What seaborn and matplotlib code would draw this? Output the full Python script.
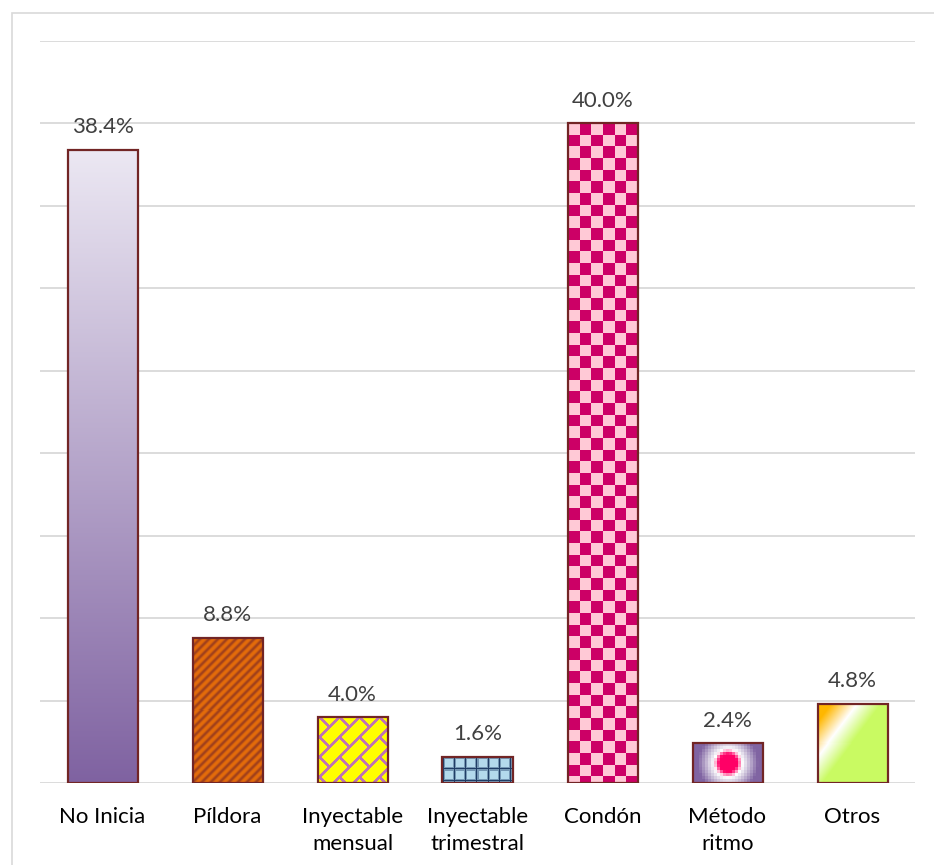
import numpy as np
import pandas as pd
import matplotlib
matplotlib.use("Agg")
import matplotlib.pyplot as plt
import matplotlib.colors as mcolors
from matplotlib.patches import Rectangle
import seaborn as sns

# Métodos anticonceptivos: porcentaje de uso
categorias = ["No Inicia", "Píldora", "Inyectable\nmensual", "Inyectable\ntrimestral",
              "Condón", "Método\nritmo", "Otros"]
porcentajes = [38.4, 8.8, 4.0, 1.6, 40.0, 2.4, 4.8]
etiquetas = ["38.4%", "8.8%", "4.0%", "1.6%", "40.0%", "2.4%", "4.8%"]
marcas_y = [0, 5, 10, 15, 20, 25, 30, 35, 40, 45]

BORDE = "#722525"
GRIS = "#d9d9d9"

sns.set_theme(style="white")
plt.rcParams["font.family"] = ["Lato", "DejaVu Sans"]


def rgb(c):
    return np.array(mcolors.to_rgb(c))


def mezcla(c1, c2, t):
    t = np.clip(t, 0, 1)[..., None]
    return (1 - t) * rgb(c1) + t * rgb(c2)


def malla(h, w):
    yy, xx = np.mgrid[0:h, 0:w]
    return xx + 0.5, yy + 0.5


# ---- rellenos de cada barra (arrays de píxeles) ----
def degradado_vertical(h, w):
    _, yy = malla(h, w)
    return mezcla("#ece8f3", "#7f62a1", yy / h)


def rayas(h, w):
    xx, yy = malla(h, w)
    s = ((xx + yy) % 9.0) / 9.0
    m = 0.5 + 0.5 * np.cos(2 * np.pi * s)
    return mezcla("#e46c0a", "#a0401c", m ** 1.5)


def ladrillos(h, w):
    xx, yy = malla(h, w)
    a = xx + yy
    b = xx - yy
    P, Q, t = 20.0, 40.0, 3.6
    k = np.floor(a / P)
    m1 = (a % P) < t
    m2 = ((b + (k % 2) * Q / 2) % Q) < t
    return mezcla("#ffff00", "#bf74b3", (m1 | m2).astype(float))


def cuadricula(h, w):
    xx, yy = malla(h, w)
    cel = 11.0
    dx = np.abs(((xx - 1.5) % cel) - cel / 2)
    dy = np.abs(((yy - 1.5) % cel) - cel / 2)
    lx = np.clip((dx - 4.0) / 1.2, 0, 1)
    ly = np.clip((dy - 4.0) / 1.2, 0, 1)
    return mezcla("#b3d9ec", "#1f3d66", np.maximum(lx, ly))


def tablero(h, w):
    xx, yy = malla(h, w)
    cel = w / 6.0
    c = (np.floor(xx / cel) + np.floor(yy / cel)) % 2
    return mezcla("#ffc9d6", "#cc0066", c)


def radial(h, w):
    xx, yy = malla(h, w)
    xx = np.floor(xx / 3) * 3 + 1.5
    yy = np.floor(yy / 3) * 3 + 1.5
    r = np.hypot(xx - w / 2, yy - h / 2)
    centro = mezcla("#ff0066", "#ffffff", (r - 9) / 5)
    fuera = mezcla("#ffffff", "#8064a2", (r - 14) / 16)
    return np.where((r < 14)[..., None], centro, fuera)


def diagonal(h, w):
    xx, yy = malla(h, w)
    t = xx / 40.0 + yy / 53.0
    a = mezcla("#ffb700", "#ffffff", (t - 0.35) / 0.65)
    b = mezcla("#ffffff", "#c9fa62", (t - 1.0) / 0.6)
    return np.where((t < 1.0)[..., None], a, b)


rellenos = [degradado_vertical, rayas, ladrillos, cuadricula, tablero, radial, diagonal]

fig = plt.figure(figsize=(9.34, 8.65), dpi=100)
ax = fig.add_axes([40 / 934, 1 - 783 / 865, 875 / 934, 742 / 865])

df = pd.DataFrame({"metodo": categorias, "pct": porcentajes})
sns.barplot(data=df, x="metodo", y="pct", ax=ax, width=0.56, color="white",
            saturation=1, edgecolor=BORDE, linewidth=1.6, errorbar=None)

ax.set_xlim(-0.5, 6.5)
ax.set_ylim(0, 45)
ax.set_yticks(marcas_y)
ax.yaxis.grid(True, color=GRIS, linewidth=1.3)
ax.set_axisbelow(True)
ax.tick_params(axis="y", length=0, labelleft=False)
ax.tick_params(axis="x", length=0, pad=17, labelsize=16, labelcolor="black")
for lab in ax.get_xticklabels():
    lab.set_linespacing(1.45)
ax.set_xlabel("")
ax.set_ylabel("")
for s in ax.spines.values():
    s.set_visible(False)

ax.bar_label(ax.containers[0], labels=etiquetas, padding=9, fontsize=16, color="#404040")

fig.canvas.draw()
renderer = fig.canvas.get_renderer()
for p, fn in zip(ax.patches, rellenos):
    bb = p.get_window_extent(renderer)
    w = max(int(round(bb.width)), 2)
    h = max(int(round(bb.height)), 2)
    x0, y0 = p.get_x(), p.get_y()
    x1, y1 = x0 + p.get_width(), y0 + p.get_height()
    img = ax.imshow(fn(h, w), extent=(x0, x1, y0, y1), origin="upper",
                    aspect="auto", interpolation="nearest", zorder=1.5)
    img.set_clip_path(p)
    p.set_facecolor("none")
    p.set_zorder(2)

ax.set_xlim(-0.5, 6.5)
ax.set_ylim(0, 45)

# marco del gráfico
fig.add_artist(Rectangle((11.5 / 934, -0.05), 1.2, (1 - 12.5 / 865) + 0.05,
                         transform=fig.transFigure, fill=False,
                         edgecolor=GRIS, linewidth=1.2))

fig.savefig("out.png", dpi=100)
